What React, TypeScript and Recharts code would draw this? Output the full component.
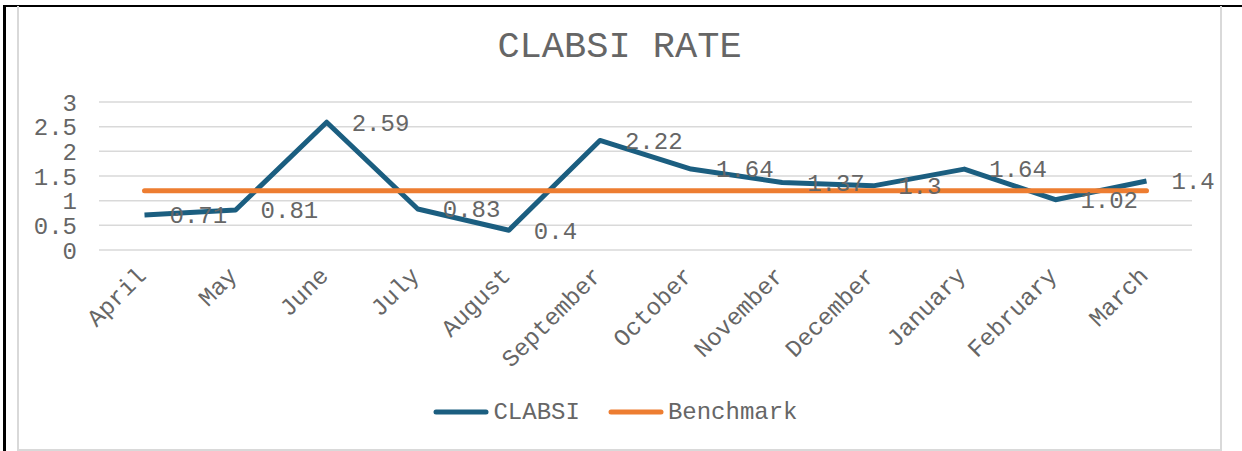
import React from "react";
import {
  LineChart,
  Line,
  XAxis,
  YAxis,
  CartesianGrid,
  Legend,
  LabelList,
} from "recharts";

const months = [
  "April",
  "May",
  "June",
  "July",
  "August",
  "September",
  "October",
  "November",
  "December",
  "January",
  "February",
  "March",
];
const clabsi = [0.71, 0.81, 2.59, 0.83, 0.4, 2.22, 1.64, 1.37, 1.3, 1.64, 1.02, 1.4];
const benchmark = [1.2, 1.2, 1.2, 1.2, 1.2, 1.2, 1.2, 1.2, 1.2, 1.2, 1.2, 1.2];
const yTicks = [0, 0.5, 1, 1.5, 2, 2.5, 3];

const data = months.map((m, i) => ({ month: m, CLABSI: clabsi[i], Benchmark: benchmark[i] }));

const FONT = "'Liberation Mono', 'Courier New', monospace";
const TEXT = "#666666";
const BLUE = "#1b5e80";
const ORANGE = "#ed7d31";

const MonthTick = (props: any) => {
  const { x, y, payload } = props;
  return (
    <g transform={`translate(${x - 3},${y + 13}) rotate(-45)`}>
      <text textAnchor="end" dy="0.35em" fontSize={24} fontFamily={FONT} fill={TEXT}>
        {payload.value}
      </text>
    </g>
  );
};

const ValueLabel = (props: any) => {
  const { x, y, value } = props;
  return (
    <text x={x + 25} y={y} dy="0.35em" fontSize={24} fontFamily={FONT} fill={TEXT}>
      {value}
    </text>
  );
};

const LegendBox = () => (
  <div
    style={{
      display: "flex",
      justifyContent: "center",
      alignItems: "center",
      height: 30,
      fontFamily: FONT,
      fontSize: 24,
      color: TEXT,
    }}
  >
    {[
      { name: "CLABSI", color: BLUE },
      { name: "Benchmark", color: ORANGE },
    ].map((it, i) => (
      <div key={it.name} style={{ display: "flex", alignItems: "center", marginLeft: i ? 28 : 0 }}>
        <svg width={56} height={8}>
          <line x1={3} y1={4} x2={53} y2={4} stroke={it.color} strokeWidth={5} strokeLinecap="round" />
        </svg>
        <span style={{ marginLeft: 4 }}>{it.name}</span>
      </div>
    ))}
  </div>
);

export default function App() {
  return (
    <div style={{ position: "absolute", left: 0, top: 0, width: 1242, height: 451, background: "#fff" }}>
      <div
        style={{
          position: "absolute",
          left: 3,
          top: 5,
          width: 1239,
          height: 446,
          borderTop: "2px solid #000",
          borderLeft: "3px solid #000",
          boxSizing: "border-box",
        }}
      />
      <div
        style={{
          position: "absolute",
          left: 17,
          top: 6,
          width: 1205,
          height: 445,
          border: "2px solid #d9d9d9",
          borderTop: "none",
          boxSizing: "border-box",
        }}
      />
      <div
        style={{
          position: "absolute",
          left: 17,
          width: 1205,
          top: 26,
          textAlign: "center",
          fontFamily: FONT,
          fontSize: 37,
          color: TEXT,
          lineHeight: "42px",
        }}
      >
        CLABSI RATE
      </div>
      <div style={{ position: "absolute", left: 0, top: 0 }}>
        <LineChart width={1242} height={451} data={data} margin={{ top: 102, right: 50, left: 39, bottom: 24 }}>
          <CartesianGrid vertical={false} stroke="#d9d9d9" strokeWidth={1.5} />
          <XAxis
            dataKey="month"
            axisLine={false}
            tickLine={false}
            interval={0}
            height={147}
            padding={{ left: 45.5, right: 45.5 }}
            tick={<MonthTick />}
          />
          <YAxis
            domain={[0, 3]}
            ticks={yTicks}
            interval={0}
            width={60}
            axisLine={false}
            tickLine={false}
            tickSize={0}
            tickMargin={22}
            tick={{ fontSize: 24, fontFamily: FONT, fill: TEXT }}
          />
          <Legend verticalAlign="bottom" height={30} content={<LegendBox />} />
          <Line
            dataKey="CLABSI"
            stroke={BLUE}
            strokeWidth={5}
            dot={false}
            isAnimationActive={false}
            strokeLinejoin="round"
          >
            <LabelList dataKey="CLABSI" content={<ValueLabel />} />
          </Line>
          <Line
            dataKey="Benchmark"
            stroke={ORANGE}
            strokeWidth={5}
            dot={false}
            isAnimationActive={false}
            strokeLinecap="round"
          />
        </LineChart>
      </div>
    </div>
  );
}
